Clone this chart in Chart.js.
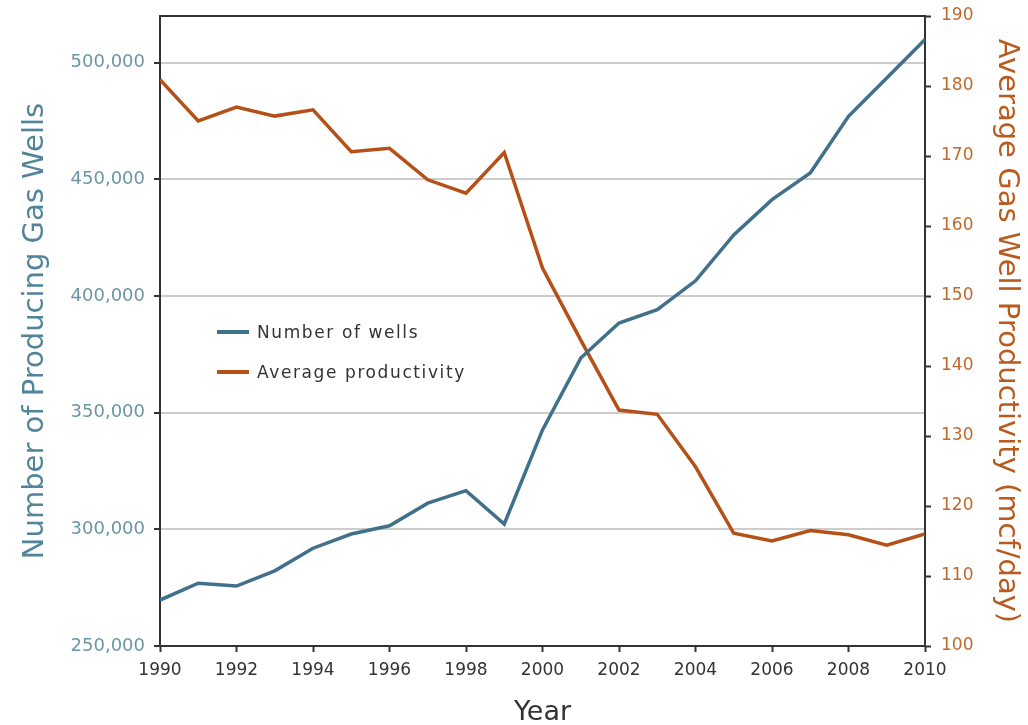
<!DOCTYPE html>
<html><head><meta charset="utf-8">
<script src="https://cdn.jsdelivr.net/npm/chart.js@4/dist/chart.umd.min.js"></script>
<style>
html,body{margin:0;padding:0;background:#fff;}
#wrap{position:relative;width:1028px;height:725px;}
#legend{position:absolute;left:217px;top:312px;font-family:"DejaVu Sans";font-size:17px;color:#333;letter-spacing:1.6px;}
.item{display:flex;align-items:center;height:40px;white-space:nowrap;}
.swatch{width:32px;height:4px;margin-right:8px;}
</style></head>
<body><div id="wrap"><canvas id="c" width="1028" height="725"></canvas><div id="legend"></div></div>
<script>
const years = [1990,1991,1992,1993,1994,1995,1996,1997,1998,1999,2000,2001,2002,2003,2004,2005,2006,2007,2008,2009,2010];
const wells = [269700,276900,275700,282200,291900,298000,301500,311200,316600,302300,342600,373400,388400,394100,406500,426200,441300,452700,477000,493400,509900];
const productivity = [180.9,175.0,177.0,175.7,176.6,170.6,171.1,166.6,164.7,170.5,154.0,143.7,133.7,133.1,125.6,116.1,115.0,116.5,115.9,114.4,116.0];
const xTicks = [1990,1992,1994,1996,1998,2000,2002,2004,2006,2008,2010];
const leftTicks = [250000,300000,350000,400000,450000,500000];
const rightTicks = [100,110,120,130,140,150,160,170,180,190];
const seriesNames = ['Number of wells','Average productivity'];
const seriesColors = ['#40708a','#b55018'];
const xTitle = 'Year';
const leftTitle = 'Number of Producing Gas Wells';
const rightTitle = 'Average Gas Well Productivity (mcf/day)';

const frame = {id:'frame', beforeDatasetsDraw(chart){
  const {ctx, chartArea:a} = chart;
  ctx.save(); ctx.strokeStyle='#333'; ctx.lineWidth=2;
  ctx.beginPath(); ctx.moveTo(a.left-1,a.top); ctx.lineTo(a.right+1,a.top); ctx.stroke(); ctx.restore();
}};
const noPad = s=>{s.paddingTop=0; s.paddingBottom=0; s.paddingLeft=0; s.paddingRight=0;};

const FONT = 'DejaVu Sans';
const chart = new Chart(document.getElementById('c'), {
  type:'line',
  data:{datasets:[
    {label:seriesNames[0], data:years.map((y,i)=>({x:y,y:wells[i]})), borderColor:seriesColors[0], backgroundColor:seriesColors[0], borderWidth:3.5, pointRadius:0, tension:0, yAxisID:'y'},
    {label:seriesNames[1], data:years.map((y,i)=>({x:y,y:productivity[i]})), borderColor:seriesColors[1], backgroundColor:seriesColors[1], borderWidth:3.5, pointRadius:0, tension:0, yAxisID:'y2'}
  ]},
  options:{
    responsive:false, animation:false, devicePixelRatio:1,
    layout:{padding:{top:16,left:0,right:0,bottom:0}},
    plugins:{legend:{display:false}, tooltip:{enabled:false}},
    scales:{
      x:{type:'linear', position:'bottom', min:1990, max:2010,
        afterBuildTicks:s=>{s.ticks = xTicks.map(v=>({value:v}));},
        ticks:{callback:v=>String(v), color:'#333', font:{family:FONT,size:17}, padding:8, maxRotation:0, autoSkip:false},
        grid:{drawOnChartArea:false, tickLength:6, tickColor:'#333', tickWidth:2},
        border:{color:'#333', width:2},
        title:{display:true, text:xTitle, color:'#333', font:{family:FONT,size:27,lineHeight:0.9}, padding:{top:0,bottom:0}},
        afterFit:s=>{s.height=79; noPad(s);}
      },
      y:{type:'linear', position:'left', min:250000, max:520000,
        afterBuildTicks:s=>{s.ticks = leftTicks.map(v=>({value:v}));},
        ticks:{color:'#6b96a6', font:{family:FONT,size:18}, padding:9, autoSkip:false, callback:v=>v.toLocaleString('en-US')},
        grid:{color:'#cccccc', lineWidth:2, tickLength:6, tickColor:'#333', tickWidth:2},
        border:{color:'#333', width:2},
        title:{display:true, text:leftTitle, color:'#52849a', font:{family:FONT,size:29}, padding:{top:18,bottom:0}},
        afterFit:s=>{s.width=160; noPad(s);}
      },
      y2:{type:'linear', position:'right', min:100, max:190,
        afterBuildTicks:s=>{s.ticks = rightTicks.map(v=>({value:v}));},
        ticks:{color:'#c0692d', font:{family:FONT,size:17}, padding:10, autoSkip:false},
        grid:{drawOnChartArea:false, tickLength:6, tickColor:'#333', tickWidth:2},
        border:{color:'#333', width:2},
        title:{display:true, text:rightTitle, color:'#b95a1e', font:{family:FONT,size:29}, padding:{top:4,bottom:0}},
        afterFit:s=>{s.width=103; noPad(s);}
      }
    }
  },
  plugins:[frame]
});

const lg = document.getElementById('legend');
chart.data.datasets.forEach(ds=>{
  const it = document.createElement('div'); it.className='item';
  const sw = document.createElement('span'); sw.className='swatch'; sw.style.background=ds.borderColor;
  const tx = document.createElement('span'); tx.textContent=ds.label;
  it.appendChild(sw); it.appendChild(tx); lg.appendChild(it);
});
</script>
</body></html>
